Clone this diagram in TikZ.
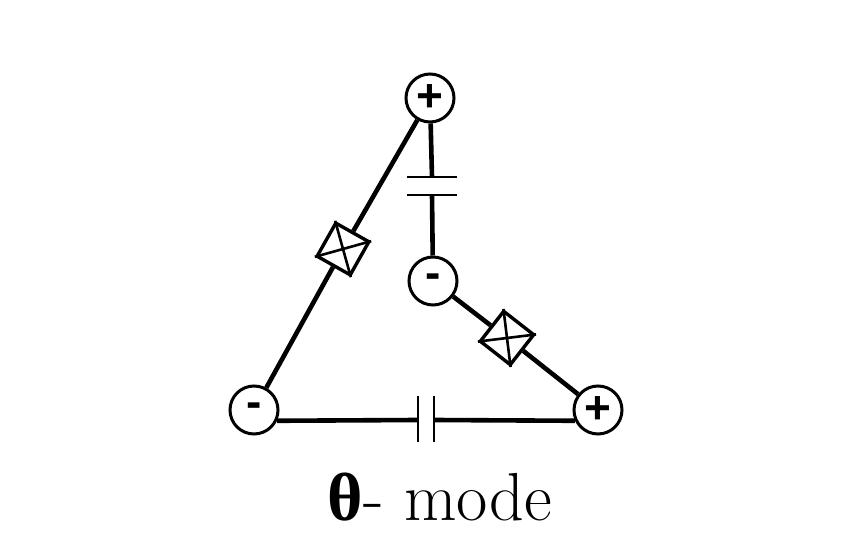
\documentclass[tikz,border=0pt]{standalone}
\usepackage{fontspec}
\newfontfamily\greekfont{Liberation Serif}
\newfontfamily\signfont{Liberation Sans}
\begin{document}
\begin{tikzpicture}[x=1pt,y=1pt,
  island/.style={shape=circle,draw,line width=3pt,minimum size=48pt,inner sep=0pt,font=\signfont\fontsize{46}{46}\selectfont\bfseries},
  junction/.style={shape=rectangle,draw,line width=3.4pt,minimum size=38pt,inner sep=0pt},
  wire/.style={line width=4.6pt},
  plate/.style={line width=1.8pt}]
  \useasboundingbox (0,0) rectangle (849,543);
  %% islands
  \node (top) at (430,445) [island] {+};
  \node (mid) at (433,262) [island] {-};
  \node (left) at (254,133) [island] {-};
  \node (right) at (598,133) [island] {+};
  %% junctions
  \node (jleft) at (343,294) [junction,rotate=60.6] {};
  \node (jright) at (507,205) [junction,rotate=-38] {};
  \foreach \j in {jleft,jright}
    \draw[line width=2.6pt] (\j.north west) -- (\j.south east) (\j.north east) -- (\j.south west);
  %% capacitor plates
  \coordinate (ct1) at (432,366);
  \coordinate (ct2) at (432,348);
  \coordinate (cb1) at (418,123);
  \coordinate (cb2) at (434,123);
  \draw[plate] ([xshift=-25pt]ct1) -- ([xshift=25pt]ct1);
  \draw[plate] ([xshift=-25pt]ct2) -- ([xshift=25pt]ct2);
  \draw[plate] ([yshift=-22pt]cb1) -- ([yshift=24pt]cb1);
  \draw[plate] ([yshift=-22pt]cb2) -- ([yshift=24pt]cb2);
  %% wires
  \draw[wire] (top) -- (ct1);
  \draw[wire] (ct2) -- (mid);
  \draw[wire] (left) -- (jleft) -- (top);
  \draw[wire] (mid) -- (jright) -- (right);
  \draw[wire] (left.-25) -- (cb1);
  \draw[wire] (cb2) -- (right.205);
  %% label
  \node (label) at (440,46) {\fontsize{68}{80}\selectfont{\greekfont\bfseries θ}- mode};
\end{tikzpicture}
\end{document}
